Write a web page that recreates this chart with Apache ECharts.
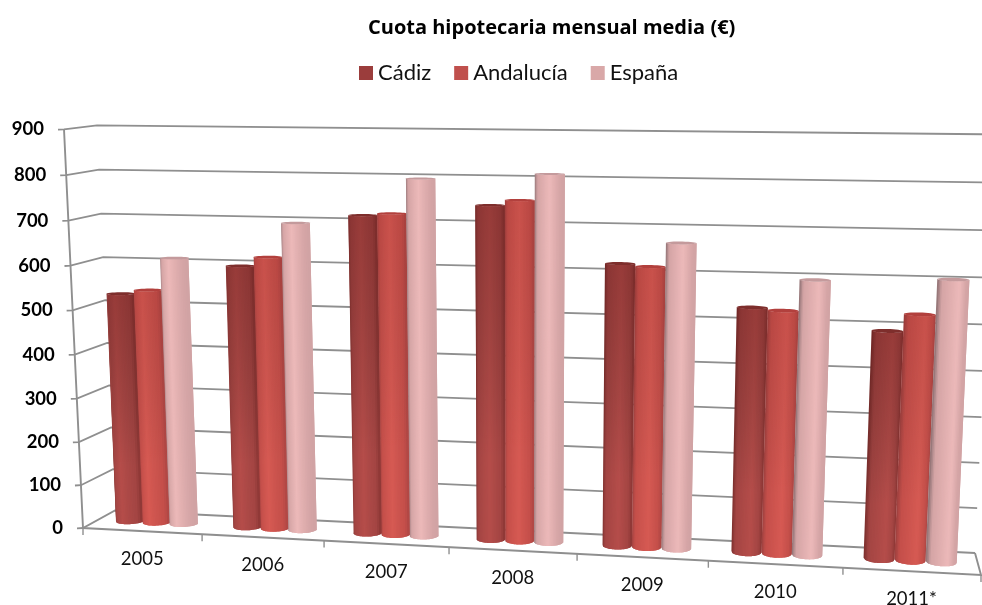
<!DOCTYPE html>
<html>
<head>
<meta charset="utf-8">
<style>html,body{margin:0;padding:0;background:#fff}#c{width:982px;height:605px}</style>
<script src="https://cdn.jsdelivr.net/npm/echarts@6/dist/echarts.min.js"></script>
</head>
<body>
<div id="c"></div>
<script>
const categories = ['2005','2006','2007','2008','2009','2010','2011*'];
const cadiz = [528,598,716,743,623,536,494];
const andalucia = [538,619,721,755,618,531,531];
const espana = [612,696,798,812,670,598,606];
const yTicks = [0,100,200,300,400,500,600,700,800,900];

// Perspective box of the 3D chart (pixel corners of floor and top plane)
const FLB=[83,528], FLT=[64,129.3], BLB=[115,510.5], BLT=[97,125.3];
const BRB=[975,553], BRT=[995,134.4], FRB=[981,575], FRT=[1001,141];
const KU=1.09, KV=1.04, BAR_D=0.52, BAR_RD=0.21, BAR_RD_TOP=0.15, BAR_W=0.23, STRIPS=22;
const warp=(t,k)=>t/(k+(1-k)*t);
const lerp=(a,b,t)=>[a[0]+(b[0]-a[0])*t,a[1]+(b[1]-a[1])*t];
function project(u,v,d){
  const uu=warp(u,KU), vv=warp(v,KV);
  const front=lerp(lerp(FLB,FRB,uu),lerp(FLT,FRT,uu),vv);
  const back=lerp(lerp(BLB,BRB,uu),lerp(BLT,BRT,uu),vv);
  return lerp(front,back,d);
}
const GRID={left:83,top:129,width:898,height:399};
const uvOf=(p)=>[(p[0]-GRID.left)/GRID.width,1-(p[1]-GRID.top)/GRID.height];
const LINE='#8f8f8f';

function axisItem(params,api){
  const i=api.value(0);
  const u=uvOf([api.coord([i,0])[0],GRID.top+GRID.height])[0];
  const band=api.size([1,0])[0]/GRID.width;
  const t=project(u+band/2,0,0);
  const ch=[
    {type:'line',shape:{x1:t[0],y1:t[1],x2:t[0],y2:t[1]+7},style:{stroke:LINE,lineWidth:1.4}}
  ];
  const lab=project(u,0,0);
  ch.push({type:'text',style:{text:categories[i],x:lab[0],y:lab[1]+28,align:'center',verticalAlign:'middle',font:'18.5px Lato',fill:'#111'}});
  if(i===0){
    const o=project(0,0,0), r=project(1,0,0), rb=project(1,0,1), top=project(0,1,0);
    ch.push({type:'polyline',shape:{points:[top,o,r,rb]},style:{stroke:LINE,lineWidth:1.9,fill:null}});
    ch.push({type:'line',shape:{x1:o[0],y1:o[1],x2:o[0],y2:o[1]+7},style:{stroke:LINE,lineWidth:1.4}});
  }
  return {type:'group',silent:true,children:ch};
}
// point on the front of the cylinder's ring at height v; s runs -1 (left) .. 1 (right)
function ringFront(uc,v,rx,rd,s){
  return project(uc+rx*s,v,BAR_D-rd*Math.sqrt(Math.max(0,1-s*s)));
}
function capRing(uc,v,rx,rd,steps){
  const pts=[];
  for(let k=0;k<steps;k++){
    const t=2*Math.PI*k/steps;
    pts.push(project(uc+rx*Math.cos(t),v,BAR_D+rd*Math.sin(t)));
  }
  return pts;
}
const PALETTE=[
  {edgeL:'#7a2e2c',mid:'#a34543',light:'#b54d4a',edgeR:'#8a3634',cap:'#7e2e2c',swatch:'#9B3D3C',shade:'rgba(70,10,10,0.26)'},
  {edgeL:'#9c403e',mid:'#c44f4a',light:'#d65a53',edgeR:'#ad4643',cap:'#b2403d',swatch:'#C0504D',shade:'rgba(110,20,20,0.12)'},
  {edgeL:'#8c7072',mid:'#d4a4a5',light:'#ecb9b9',edgeR:'#d0a3a4',cap:'#c49a9c',swatch:'#D9A8A8',shade:'rgba(0,0,0,0)'}
];
function shadeAt(P,pos,hl){
  if(pos<0.14) return echarts.color.lerp(pos/0.14,[P.edgeL,P.mid]);
  if(pos<hl) return echarts.color.lerp((pos-0.14)/(hl-0.14),[P.mid,P.light]);
  if(pos<0.9) return echarts.color.lerp((pos-hl)/(0.9-hl),[P.light,P.mid]);
  return echarts.color.lerp((pos-0.9)/0.1,[P.mid,P.edgeR]);
}
function barItem(sIdx){
  return function(params,api){
    const cat=api.value(0), val=api.value(1);
    const band=api.size([1,0])[0]/GRID.width;
    const u0=uvOf(api.coord([cat,0]));
    const vt=uvOf(api.coord([cat,val]))[1];
    const uc=u0[0]+(sIdx-1)*BAR_W*band;
    const rx=BAR_W*band/2;
    const P=PALETTE[sIdx];
    const hl=0.42+0.28*u0[0];
    const children=[];
    const outline=[];
    for(let k=0;k<STRIPS;k++){
      const s0=-1+2*k/STRIPS, s1=Math.min(1,-1+2*(k+2)/STRIPS), s2=(s0+s1)/2;
      const color=shadeAt(P,(k+0.5)/STRIPS,hl);
      children.push({type:'polygon',shape:{points:[
        ringFront(uc,0,rx,BAR_RD,s0),ringFront(uc,0,rx,BAR_RD,s2),ringFront(uc,0,rx,BAR_RD,s1),
        ringFront(uc,vt,rx,BAR_RD_TOP,s1),ringFront(uc,vt,rx,BAR_RD_TOP,s2),ringFront(uc,vt,rx,BAR_RD_TOP,s0)
      ]},style:{fill:color}});
    }
    for(let k=0;k<=STRIPS;k++) outline.push(ringFront(uc,0,rx,BAR_RD,-1+2*k/STRIPS));
    for(let k=STRIPS;k>=0;k--) outline.push(ringFront(uc,vt,rx,BAR_RD_TOP,-1+2*k/STRIPS));
    children.push({type:'polygon',shape:{points:outline},style:{
      fill:new echarts.graphic.LinearGradient(0,0,0,1,[
        {offset:0,color:P.shade},{offset:0.75,color:'rgba(0,0,0,0)'}
      ])}});
    children.push({type:'polygon',shape:{points:capRing(uc,vt,rx,BAR_RD_TOP,32)},style:{fill:P.cap}});
    return {type:'group',children};
  };
}
const chart=echarts.init(document.getElementById('c'),null,{renderer:'canvas'});
const barSeries=(name,data,i)=>({
  type:'custom',name,z:10+i,clip:false,
  coordinateSystem:'cartesian2d',
  data:data.map((v,k)=>[k,v]),encode:{x:0,y:1},
  itemStyle:{color:PALETTE[i].swatch},
  renderItem:barItem(i)
});
chart.setOption({
  animation:false,
  backgroundColor:'#fff',
  textStyle:{fontFamily:'Lato'},
  title:{text:'Cuota hipotecaria mensual media (€)',left:363,top:13,
    textStyle:{fontFamily:'Open Sans',fontWeight:'bold',fontSize:20,color:'#000'}},
  legend:{left:354,top:57,itemWidth:14,itemHeight:14,itemGap:23,icon:'rect',
    data:['Cádiz','Andalucía','España'],
    textStyle:{fontFamily:'Lato',fontSize:22,color:'#111'}},
  grid:GRID,
  xAxis:{type:'category',data:categories,show:false},
  yAxis:{type:'value',min:0,max:900,interval:100,show:false},
  series:[
    {type:'custom',name:'grid',z:1,clip:false,coordinateSystem:'cartesian2d',silent:true,
      data:yTicks.map(v=>[0,v]),encode:{x:0,y:1},
      renderItem:(p,api)=>{const v=api.value(1);
        const a=uvOf(api.coord([0,v]))[1];
        const l=project(0,a,0), b=project(0,a,1), c=project(1,a,1);
        return {type:'group',children:[
          {type:'polyline',shape:{points:[[l[0]-6,l[1]+0.3],l,b,c]},style:{stroke:LINE,lineWidth:1.8,fill:null}},
          {type:'text',style:{text:String(v),x:l[0]-20,y:l[1],align:'right',verticalAlign:'middle',font:'bold 18.5px Lato',fill:'#000'}}
        ]};}},
    {type:'custom',name:'axis',z:2,clip:false,coordinateSystem:'cartesian2d',silent:true,
      data:categories.map((c,i)=>[i,0]),encode:{x:0,y:1},renderItem:axisItem},
    barSeries('Cádiz',cadiz,0),
    barSeries('Andalucía',andalucia,1),
    barSeries('España',espana,2)
  ]
});
</script>
</body>
</html>
